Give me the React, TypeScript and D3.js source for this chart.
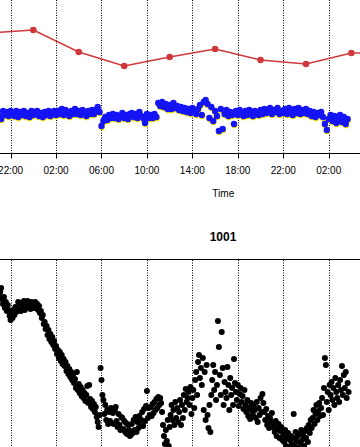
import React from "react";
import * as d3 from "d3";

const parse = d3.timeParse("%Y-%m-%dT%H:%M");
const SERIES_START = "2021-01-01T21:00";

const tickTimes = [
  "2021-01-01T22:00", "2021-01-02T02:00", "2021-01-02T06:00", "2021-01-02T10:00",
  "2021-01-02T14:00", "2021-01-02T18:00", "2021-01-02T22:00", "2021-01-03T02:00",
];

const redTimes = [
  "2021-01-01T20:00", "2021-01-02T00:00", "2021-01-02T04:00", "2021-01-02T08:00",
  "2021-01-02T12:00", "2021-01-02T16:00", "2021-01-02T20:00", "2021-01-03T00:00",
  "2021-01-03T04:00", "2021-01-03T08:00",
];
const redValues = [140, 143, 121, 107, 116, 124, 113, 109, 120, 120];

// blue series, one reading every 10 minutes from SERIES_START
const blueValues = [
  57, 54, 62, 58, 61, 57, 62, 59, 57, 62,
  56, 61, 58, 62, 57, 60, 56, 62, 58, 61,
  62, 57, 60, 56, 61, 58, 62, 57, 60, 62,
  58, 62, 59, 64, 58, 63, 60, 57, 62, 59,
  64, 59, 62, 58, 63, 60, 57, 62, 59, 63,
  59, 63, 66, 61, 47, 52, 56, 53, 58, 55,
  59, 55, 58, 54, 57, 60, 55, 58, 54, 59,
  60, 56, 59, 55, 61, 57, 55, 50, 59, 55,
  58, 55, 59, 56, 70, 67, 71, 66, 69, 64,
  68, 64, 70, 65, 67, 63, 66, 62, 65, 61,
  64, 60, 65, 62, 59, 64, 68, 58, 71, 73,
  69, 55, 66, 52, 62, 57, 42, 64, 44, 59,
  63, 57, 61, 58, 49, 62, 58, 63, 59, 57,
  62, 58, 63, 59, 57, 62, 60, 58, 63, 59,
  64, 60, 62, 65, 59, 63, 61, 65, 59, 62,
  60, 64, 59, 65, 61, 58, 64, 60, 65, 59,
  63, 60, 64, 59, 62, 57, 61, 56, 60, 58,
  61, 56, 49, 43, 54, 58, 52, 57, 50, 55,
  58, 51, 56, 49, 54,
];

// black series, one reading every 5 minutes from SERIES_START
const blackValues = [
  204, 208, 212, 201, 196, 203, 192, 198, 189, 195,
  190, 184, 180, 186, 182, 190, 185, 193, 188, 191,
  198, 190, 196, 189, 197, 192, 199, 190, 196, 193,
  199, 193, 197, 191, 198, 194, 196, 192, 198, 195,
  196, 190, 194, 187, 189, 182, 185, 176, 178, 171,
  174, 165, 170, 161, 166, 158, 163, 155, 159, 151,
  154, 146, 150, 142, 148, 139, 145, 136, 141, 134,
  138, 129, 134, 126, 131, 123, 128, 120, 125, 117,
  121, 112, 128, 110, 116, 107, 113, 104, 110, 102,
  107, 99, 105, 114, 97, 115, 101, 93, 99, 91,
  96, 88, 93, 83, 78, 73, 85, 132, 120, 105,
  100, 86, 95, 80, 90, 76, 88, 79, 92, 77,
  87, 76, 90, 93, 79, 73, 86, 75, 70, 83,
  82, 71, 79, 68, 77, 66, 75, 70, 64, 65,
  76, 67, 80, 70, 83, 68, 78, 72, 84, 74,
  80, 88, 74, 91, 79, 94, 109, 82, 92, 85,
  93, 84, 96, 87, 98, 90, 101, 92, 103, 95,
  102, 97, 88, 75, 64, 56, 70, 59, 80, 54,
  73, 85, 95, 80, 90, 75, 98, 82, 92, 78,
  88, 100, 75, 95, 82, 105, 90, 111, 98, 102,
  108, 95, 113, 86, 102, 110, 92, 120, 128, 105,
  138, 145, 122, 132, 115, 142, 90, 128, 80, 135,
  85, 72, 95, 68, 105, 120, 135, 110, 128, 100,
  115, 179, 153, 125, 105, 168, 132, 95, 118, 108,
  102, 133, 115, 90, 122, 105, 112, 95, 141, 117,
  108, 100, 115, 94, 106, 112, 98, 104, 91, 110,
  95, 88, 100, 84, 92, 81, 97, 89, 85, 94,
  90, 82, 98, 78, 92, 85, 102, 88, 106, 97,
  88, 80, 91, 75, 84, 72, 82, 78, 87, 73,
  75, 68, 79, 64, 71, 76, 62, 69, 73, 60,
  65, 58, 70, 54, 62, 67, 53, 60, 64, 56,
  62, 86, 55, 68, 59, 64, 52, 66, 57, 70,
  60, 65, 54, 69, 62, 72, 58, 75, 67, 80,
  72, 82, 90, 76, 86, 95, 80, 89, 97, 84,
  92, 102, 85, 112, 142, 135, 98, 108, 90, 115,
  105, 118, 100, 112, 95, 122, 108, 102, 115, 98,
  120, 110, 134, 105, 125, 112, 128, 102, 117, 108,
];

const xLabel = "Time";
const title = "1001";

const W = 360;
const H = 447;
const FONT = "'Liberation Sans', Arial, Helvetica, sans-serif";

export default function App() {
  const start = parse(SERIES_START) as Date;
  const ticks = tickTimes.map((t) => parse(t) as Date);
  const x = d3.scaleTime().domain([ticks[0], ticks[ticks.length - 1]]).range([10.6, 328.7]);
  const yTop = d3.scaleLinear().domain([20, 170]).range([153, 3]);
  const yBot = d3.scaleLinear().domain([60, 210]).range([440, 290]);
  const fmt = d3.timeFormat("%H:%M");

  const blue = blueValues.map((v, i) => ({ t: d3.timeMinute.offset(start, 10 * i), v }));
  const black = blackValues.map((v, i) => ({ t: d3.timeMinute.offset(start, 5 * i), v }));
  const red = redValues.map((v, i) => ({ t: parse(redTimes[i]) as Date, v }));

  const redLine = d3
    .line<{ t: Date; v: number }>()
    .x((d) => x(d.t))
    .y((d) => yTop(d.v));

  const axisY = 153.5;
  const botTop = 259.5;
  const redColor = "#d0393b";

  return (
    <svg
      width={W}
      height={H}
      style={{ position: "absolute", left: 0, top: 0, background: "#fff" }}
      fontFamily={FONT}
    >
      <rect x={0} y={0} width={W} height={H} fill="#fff" />
      {ticks.map((t, i) => {
        const px = Math.round(x(t)) + 0.5;
        return (
          <line key={"gt" + i} x1={px} x2={px} y1={0} y2={axisY} stroke="#000" strokeWidth={1} strokeDasharray="1,1.5" />
        );
      })}
      {ticks.map((t, i) => {
        const px = Math.round(x(t)) + 0.5;
        return (
          <line key={"gb" + i} x1={px} x2={px} y1={botTop + 0.5} y2={H} stroke="#000" strokeWidth={1} strokeDasharray="1,1.5" />
        );
      })}

      <path d={redLine(red) || ""} fill="none" stroke={redColor} strokeWidth={1.5} />
      {red.map((d, i) => (
        <circle key={"r" + i} cx={x(d.t)} cy={yTop(d.v)} r={3.3} fill={redColor} />
      ))}

      <g transform="translate(0.3,1.2)">
        {blue.map((d, i) => (
          <circle key={"y" + i} cx={x(d.t)} cy={yTop(d.v)} r={3.1} fill="#f5e600" />
        ))}
      </g>
      {blue.map((d, i) => (
        <circle key={"b" + i} cx={x(d.t)} cy={yTop(d.v)} r={3.2} fill="#1414f5" />
      ))}

      <line x1={0} x2={W} y1={axisY} y2={axisY} stroke="#000" strokeWidth={1} />
      {ticks.map((t, i) => {
        const px = Math.round(x(t)) + 0.5;
        return (
          <g key={"tk" + i}>
            <line x1={px} x2={px} y1={axisY} y2={axisY + 5} stroke="#000" strokeWidth={1} />
            <text x={x(t)} y={174} fontSize={10} textAnchor="middle" fill="#000">
              {fmt(t)}
            </text>
          </g>
        );
      })}
      <text x={223.3} y={197} fontSize={10} textAnchor="middle" fill="#000">
        {xLabel}
      </text>
      <text x={223} y={241} fontSize={12} fontWeight="bold" textAnchor="middle" fill="#000">
        {title}
      </text>

      <line x1={0} x2={W} y1={botTop} y2={botTop} stroke="#000" strokeWidth={1} />

      {black.map((d, i) => (
        <circle key={"k" + i} cx={x(d.t)} cy={yBot(d.v)} r={3} fill="#000" />
      ))}
    </svg>
  );
}
